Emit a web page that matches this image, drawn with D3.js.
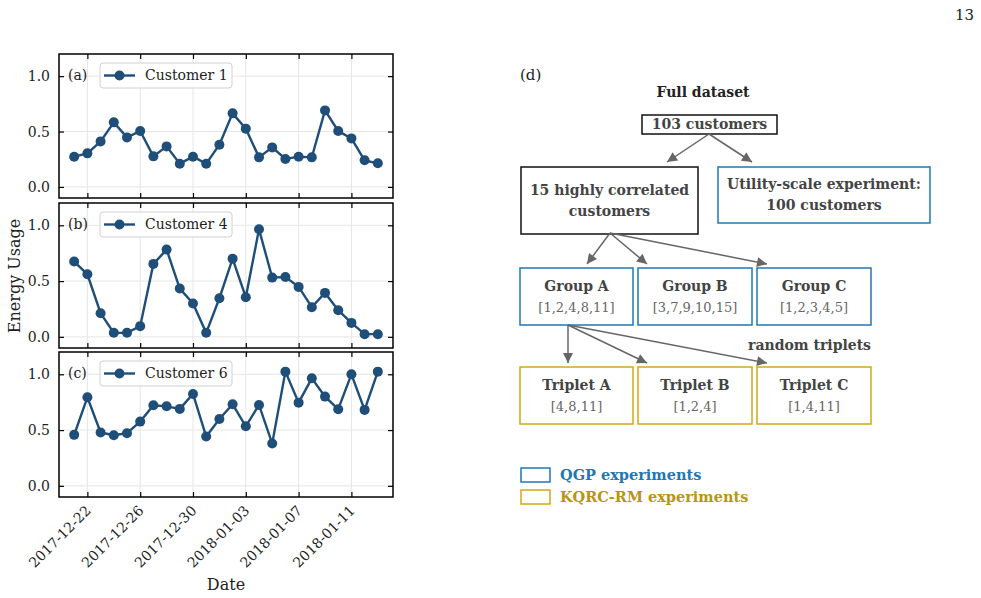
<!DOCTYPE html>
<html><head><meta charset="utf-8">
<script src="https://cdn.jsdelivr.net/npm/d3@7"></script>
<style>body{margin:0;background:#fff}svg{display:block}</style>
</head><body>
<svg id="c" width="981" height="598"></svg>
<script>
// ---- data ----
const dates = ["2017-12-21","2017-12-22","2017-12-23","2017-12-24","2017-12-25","2017-12-26","2017-12-27","2017-12-28","2017-12-29","2017-12-30","2017-12-31","2018-01-01","2018-01-02","2018-01-03","2018-01-04","2018-01-05","2018-01-06","2018-01-07","2018-01-08","2018-01-09","2018-01-10","2018-01-11","2018-01-12","2018-01-13"];
const customer1 = [0.273,0.303,0.411,0.583,0.447,0.505,0.276,0.366,0.210,0.273,0.210,0.381,0.664,0.526,0.267,0.357,0.252,0.273,0.267,0.691,0.505,0.438,0.240,0.213];
const customer4 = [0.675,0.561,0.212,0.036,0.036,0.096,0.654,0.782,0.433,0.299,0.036,0.346,0.701,0.355,0.964,0.531,0.537,0.448,0.266,0.394,0.239,0.125,0.024,0.024];
const customer6 = [0.457,0.794,0.478,0.454,0.472,0.576,0.722,0.713,0.690,0.824,0.442,0.600,0.731,0.534,0.725,0.379,1.024,0.746,0.964,0.800,0.687,1.000,0.681,1.024];
const panelLabels = ["(a)","(b)","(c)"];
const seriesNames = ["Customer 1","Customer 4","Customer 6"];
const xTickLabels = ["2017-12-22","2017-12-26","2017-12-30","2018-01-03","2018-01-07","2018-01-11"];
const yTickValues = [0.0,0.5,1.0];
const yDomain = [-0.1,1.2];

const svg = d3.select("#c");
const serif = "DejaVu Serif, serif";
const lineColor = "#1f4e79";
const parse = d3.timeParse("%Y-%m-%d");
const dateObjs = dates.map(parse);
const tickDates = xTickLabels.map(parse);

// x scale with 5% margin
const ext = d3.extent(dateObjs);
const span = ext[1]-ext[0];
const x = d3.scaleTime().domain([new Date(+ext[0]-0.05*span), new Date(+ext[1]+0.05*span)]).range([59,393]);

const panels = [
  {top:54,bottom:198,vals:customer1},
  {top:203,bottom:348,vals:customer4},
  {top:352,bottom:497,vals:customer6}
];

panels.forEach((p,i)=>{
  const y = d3.scaleLinear().domain(yDomain).range([p.bottom,p.top]);
  const g = svg.append("g");
  // grid
  g.selectAll(".gx").data(tickDates).join("line")
    .attr("x1",d=>x(d)).attr("x2",d=>x(d)).attr("y1",p.top).attr("y2",p.bottom)
    .attr("stroke","#e6e6e6").attr("stroke-width",1);
  g.selectAll(".gy").data(yTickValues).join("line")
    .attr("x1",59).attr("x2",393).attr("y1",d=>y(d)).attr("y2",d=>y(d))
    .attr("stroke","#e6e6e6").attr("stroke-width",1);
  // axes (inward ticks)
  const axL = d3.axisLeft(y).tickValues(yTickValues).tickSize(-5).tickPadding(9).tickFormat(d3.format(".1f"));
  const axR = d3.axisRight(y).tickValues(yTickValues).tickSize(-5).tickFormat("");
  const axT = d3.axisTop(x).tickValues(tickDates).tickSize(-5).tickFormat("");
  const axB = d3.axisBottom(x).tickValues(tickDates).tickSize(-5).tickFormat("");
  const gl = g.append("g").attr("transform","translate(59,0)").call(axL);
  g.append("g").attr("transform","translate(393,0)").call(axR);
  g.append("g").attr("transform",`translate(0,${p.top})`).call(axT);
  g.append("g").attr("transform",`translate(0,${p.bottom})`).call(axB);
  g.selectAll(".domain").remove();
  g.selectAll(".tick line").attr("stroke","#000").attr("stroke-width",1.2);
  gl.selectAll("text").attr("font-family",serif).attr("font-size",14).attr("fill","#222");
  // frame
  g.append("rect").attr("x",59).attr("y",p.top).attr("width",334).attr("height",p.bottom-p.top)
    .attr("fill","none").attr("stroke","#000").attr("stroke-width",1.5);
  // line + markers
  const line = d3.line().x((d,j)=>x(dateObjs[j])).y(d=>y(d));
  g.append("path").datum(p.vals).attr("d",line).attr("fill","none").attr("stroke",lineColor).attr("stroke-width",2.4);
  g.selectAll(".pt").data(p.vals).join("circle")
    .attr("cx",(d,j)=>x(dateObjs[j])).attr("cy",d=>y(d)).attr("r",5).attr("fill",lineColor);
  // legend
  const ly = p.top+9;
  g.append("rect").attr("x",100).attr("y",ly).attr("width",132).attr("height",25).attr("rx",3)
    .attr("fill","#fff").attr("fill-opacity",0.85).attr("stroke","#d0d0d0").attr("stroke-width",1);
  g.append("line").attr("x1",104).attr("x2",135).attr("y1",ly+12.5).attr("y2",ly+12.5)
    .attr("stroke",lineColor).attr("stroke-width",2.4);
  g.append("circle").attr("cx",119.5).attr("cy",ly+12.5).attr("r",5).attr("fill",lineColor);
  g.append("text").attr("x",145).attr("y",ly+12.5).attr("dy","0.35em").attr("font-family",serif)
    .attr("font-size",14).attr("fill","#222").text(seriesNames[i]);
  g.append("text").attr("x",68).attr("y",ly+12.5).attr("dy","0.35em").attr("font-family",serif)
    .attr("font-size",14).attr("fill","#222").text(panelLabels[i]);
  if(i===2){
    tickDates.forEach((d,k)=>{
      svg.append("text").attr("transform",`translate(${x(d)+1},${p.bottom+11}) rotate(-45)`)
        .attr("text-anchor","end").attr("dy","0.35em").attr("font-family",serif).attr("font-size",14)
        .attr("fill","#222").text(xTickLabels[k]);
    });
  }
});
svg.append("text").attr("x",226).attr("y",590).attr("text-anchor","middle").attr("font-family",serif)
  .attr("font-size",16).attr("fill","#222").text("Date");
svg.append("text").attr("transform","translate(20,276) rotate(-90)").attr("text-anchor","middle")
  .attr("font-family",serif).attr("font-size",16).attr("fill","#222").text("Energy Usage");

// page number
svg.append("text").attr("x",974).attr("y",20).attr("text-anchor","end").attr("font-family",serif)
  .attr("font-size",15).attr("fill","#222").text("13");

// ---- diagram (d) ----
const blue = "#1f77b4", gold = "#d4a817", goldText = "#b8960f", dark = "#444", arrowC = "#666";
svg.append("defs").append("marker").attr("id","ah").attr("viewBox","0 0 10 10").attr("refX",10).attr("refY",5)
  .attr("markerWidth",12).attr("markerHeight",10).attr("markerUnits","userSpaceOnUse").attr("orient","auto")
  .append("path").attr("d","M0,0L10,5L0,10z").attr("fill",arrowC);

svg.append("text").attr("x",520).attr("y",80).attr("font-family",serif).attr("font-size",15).attr("fill","#222").text("(d)");

const boxes = [
  {x:642,y:115,w:135,h:19,stroke:"#111",lines:[{t:"103 customers",b:true}]},
  {x:521,y:167,w:177,h:67,stroke:"#111",lines:[{t:"15 highly correlated",b:true},{t:"customers",b:true}]},
  {x:718,y:167,w:212,h:56,stroke:blue,lines:[{t:"Utility-scale experiment:",b:true},{t:"100 customers",b:true}]},
  {x:520,y:268,w:113,h:57,stroke:blue,lines:[{t:"Group A",b:true},{t:"[1,2,4,8,11]",b:false}]},
  {x:638,y:268,w:114,h:57,stroke:blue,lines:[{t:"Group B",b:true},{t:"[3,7,9,10,15]",b:false}]},
  {x:757,y:268,w:114,h:57,stroke:blue,lines:[{t:"Group C",b:true},{t:"[1,2,3,4,5]",b:false}]},
  {x:520,y:367,w:113,h:57,stroke:gold,lines:[{t:"Triplet A",b:true},{t:"[4,8,11]",b:false}]},
  {x:638,y:367,w:114,h:57,stroke:gold,lines:[{t:"Triplet B",b:true},{t:"[1,2,4]",b:false}]},
  {x:757,y:367,w:114,h:57,stroke:gold,lines:[{t:"Triplet C",b:true},{t:"[1,4,11]",b:false}]}
];
boxes.forEach(b=>{
  svg.append("rect").attr("x",b.x).attr("y",b.y).attr("width",b.w).attr("height",b.h)
    .attr("fill","#fff").attr("stroke",b.stroke).attr("stroke-width",1.5);
  const n=b.lines.length, lh=21;
  b.lines.forEach((l,k)=>{
    svg.append("text").attr("x",b.x+b.w/2).attr("y",b.y+b.h/2+(k-(n-1)/2)*lh).attr("dy","0.35em")
      .attr("text-anchor","middle").attr("font-family",serif).attr("font-size",l.b?14:13)
      .attr("font-weight",l.b?"bold":"normal").attr("fill",l.b?dark:"#666").text(l.t);
  });
});
svg.append("text").attr("x",703).attr("y",92).attr("dy","0.35em").attr("text-anchor","middle")
  .attr("font-family",serif).attr("font-size",14).attr("font-weight","bold").attr("fill","#222").text("Full dataset");
svg.append("text").attr("x",871).attr("y",345).attr("dy","0.35em").attr("text-anchor","end")
  .attr("font-family",serif).attr("font-size",14).attr("font-weight","bold").attr("fill",dark).text("random triplets");

const arrows = [
  [709,134,667,162],[709,134,752,162],
  [610,233,587,264],[610,233,647,264],[610,233,767,264],
  [568,325,568,363],[568,325,647,363],[568,325,767,363]
];
arrows.forEach(a=>{
  svg.append("line").attr("x1",a[0]).attr("y1",a[1]).attr("x2",a[2]).attr("y2",a[3])
    .attr("stroke",arrowC).attr("stroke-width",1.5).attr("marker-end","url(#ah)");
});

// legend
const leg = [{c:blue,tc:blue,t:"QGP experiments",y:468},{c:gold,tc:goldText,t:"KQRC-RM experiments",y:490}];
leg.forEach(l=>{
  svg.append("rect").attr("x",521).attr("y",l.y).attr("width",29).attr("height",14).attr("fill","none")
    .attr("stroke",l.c).attr("stroke-width",1.5);
  svg.append("text").attr("x",560).attr("y",l.y+7).attr("dy","0.35em").attr("font-family",serif)
    .attr("font-size",14.5).attr("font-weight","bold").attr("fill",l.tc).text(l.t);
});
</script>
</body></html>
